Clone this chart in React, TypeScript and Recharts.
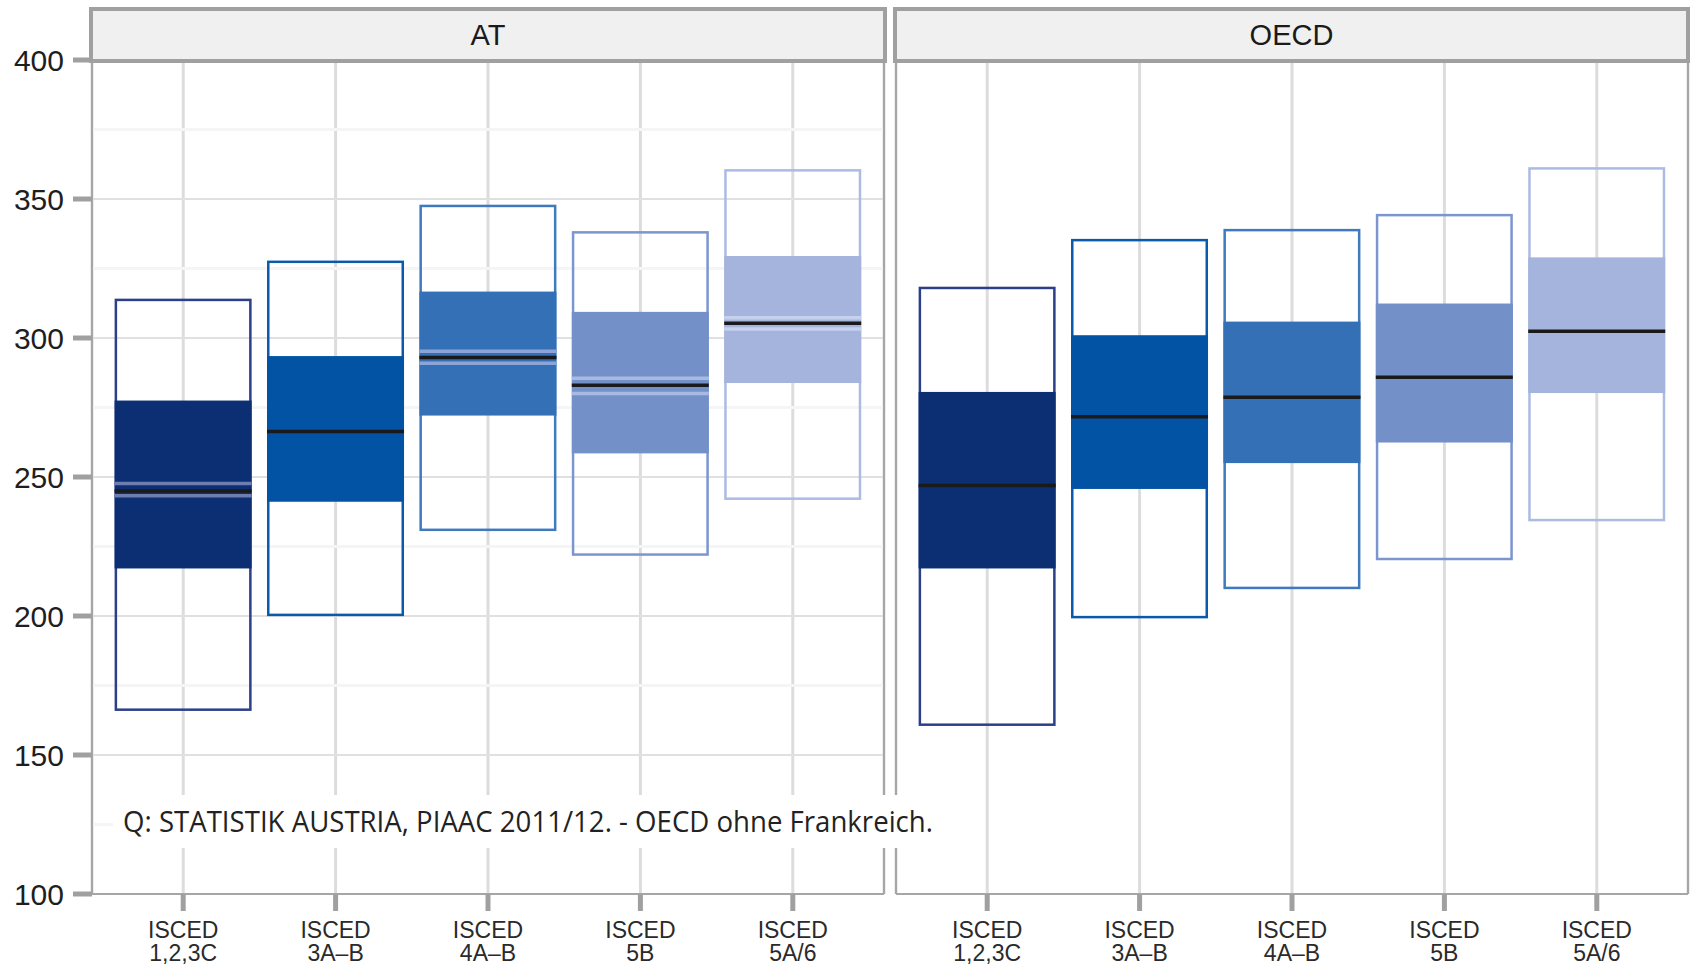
import { ComposedChart, Bar, XAxis, YAxis, CartesianGrid } from "recharts";

// categories + tick breaks
const categories = ["ISCED 1,2,3C", "ISCED 3A–B", "ISCED 4A–B", "ISCED 5B", "ISCED 5A/6"];
const yTicks = [100, 150, 200, 250, 300, 350, 400];
const minorBreaks = [125, 175, 225, 275, 325, 375];

// AT: percentiles, mean and confidence band of the mean
const atP5 = [166.3, 200.4, 231.0, 222.1, 242.2];
const atP25 = [217.1, 241.1, 272.1, 258.5, 283.8];
const atMean = [245.0, 266.4, 293.0, 283.0, 305.3];
const atP75 = [277.5, 293.5, 316.7, 309.4, 329.5];
const atP95 = [313.7, 327.4, 347.5, 338.0, 360.3];
const atCiLo = [243.3, null, 290.9, 280.0, 303.2];
const atCiHi = [247.7, null, 295.2, 285.5, 307.3];

// OECD
const oecdP5 = [160.9, 199.6, 210.1, 220.5, 234.5];
const oecdP25 = [217.1, 245.7, 255.0, 262.4, 280.2];
const oecdMean = [246.9, 271.7, 278.7, 285.9, 302.4];
const oecdP75 = [280.6, 301.0, 305.9, 312.4, 329.0];
const oecdP95 = [318.0, 335.2, 338.8, 344.2, 361.0];

const FILLS = ["#0c2f73", "#0353a4", "#3470b5", "#7490c9", "#a5b4dc"];
const STROKES = ["#2b4088", "#0b59ab", "#3f79be", "#7b96cf", "#abbbe3"];
const CI_COLORS = ["#6d7db2", "#4a7fc0", "#8ca5d6", "#a9b9e2", "#c6d1ee"];

const BORDER = "#a6a6a6";
const TICK = "#a0a0a0";
const SANS = "'Liberation Sans', Arial, sans-serif";

function buildRows(p5: number[], p25: number[], mean: number[], p75: number[], p95: number[], ciLo?: (number | null)[], ciHi?: (number | null)[]) {
  return categories.map((cat, i) => ({
    cat,
    p5: p5[i],
    p25: p25[i],
    mean: mean[i],
    p75: p75[i],
    p95: p95[i],
    ciLo: ciLo ? ciLo[i] : null,
    ciHi: ciHi ? ciHi[i] : null,
  }));
}

const atRows = buildRows(atP5, atP25, atMean, atP75, atP95, atCiLo, atCiHi);
const oecdRows = buildRows(oecdP5, oecdP25, oecdMean, oecdP75, oecdP95);

// the bar is the 5-95 range; everything else is placed inside it on the same scale
const BoxShape = (props: any) => {
  const { x, y, width, height, payload, index } = props;
  const top = Math.min(y, y + height);
  const h = Math.abs(height);
  const py = (v: number) => top + ((payload.p95 - v) / (payload.p95 - payload.p5)) * h;
  const yq3 = py(payload.p75);
  const yq1 = py(payload.p25);
  return (
    <g>
      <rect x={x + 1.25} y={top} width={width - 2.5} height={h} fill="none" stroke={STROKES[index]} strokeWidth={2.5} />
      <rect x={x} y={yq3} width={width} height={yq1 - yq3} fill={FILLS[index]} />
      {payload.ciHi != null && (
        <line x1={x} x2={x + width} y1={py(payload.ciHi)} y2={py(payload.ciHi)} stroke={CI_COLORS[index]} strokeWidth={3.5} />
      )}
      {payload.ciLo != null && (
        <line x1={x} x2={x + width} y1={py(payload.ciLo)} y2={py(payload.ciLo)} stroke={CI_COLORS[index]} strokeWidth={3.5} />
      )}
      <line x1={x} x2={x + width} y1={py(payload.mean)} y2={py(payload.mean)} stroke="#1a1a1a" strokeWidth={3.5} />
    </g>
  );
};

const IscedTick = (props: any) => {
  const { x, y, payload } = props;
  const [first, ...rest] = String(payload.value).split(" ");
  return (
    <text x={x} y={y} textAnchor="middle" fontSize={23} fill="#2a2a2a" fontFamily={SANS}>
      <tspan x={x} dy={27}>{first}</tspan>
      <tspan x={x} dy={23}>{rest.join(" ")}</tspan>
    </text>
  );
};

function Panel({ rows, showY, width }: { rows: any[]; showY: boolean; width: number }) {
  return (
    <ComposedChart width={width} height={967} data={rows} margin={{ top: 60, right: 0, bottom: 0, left: 0 }} barCategoryGap="5%">
      <CartesianGrid horizontal={false} vertical stroke="#dcdcdc" strokeWidth={3} />
      <CartesianGrid vertical={false} horizontalValues={minorBreaks} stroke="#f5f5f5" strokeWidth={3} />
      <CartesianGrid vertical={false} stroke="#e0e0e0" strokeWidth={2} />
      <XAxis
        dataKey="cat"
        height={73}
        padding={{ left: 15, right: 15 }}
        interval={0}
        tickSize={17}
        tickMargin={0}
        axisLine={{ stroke: BORDER, strokeWidth: 2 }}
        tickLine={{ stroke: TICK, strokeWidth: 5 }}
        tick={<IscedTick />}
      />
      <YAxis
        type="number"
        domain={[100, 400]}
        ticks={yTicks}
        allowDataOverflow
        width={showY ? 92 : 10}
        tickSize={showY ? 19 : 0}
        tickMargin={9}
        tick={showY ? { fontSize: 30, fill: "#1e1e1e", fontFamily: SANS } : false}
        tickLine={showY ? { stroke: TICK, strokeWidth: 5 } : false}
        axisLine={{ stroke: BORDER, strokeWidth: 2 }}
      />
      <YAxis
        yAxisId="border"
        orientation="right"
        type="number"
        domain={[100, 400]}
        width={2}
        tick={false}
        tickLine={false}
        axisLine={{ stroke: BORDER, strokeWidth: 2 }}
      />
      <Bar dataKey={(d: any) => [d.p5, d.p95]} shape={<BoxShape />} isAnimationActive={false} />
    </ComposedChart>
  );
}

const stripStyle: React.CSSProperties = {
  position: "absolute",
  top: 7,
  height: 56,
  boxSizing: "border-box",
  border: "4px solid #a0a0a0",
  background: "#f0f0f0",
  display: "flex",
  alignItems: "center",
  justifyContent: "center",
  fontFamily: SANS,
  fontSize: 29,
  color: "#1a1a1a",
};

export default function App() {
  return (
    <div style={{ position: "absolute", left: 0, top: 0, width: 1691, height: 967, background: "#fff", overflow: "hidden" }}>
      <div style={{ position: "absolute", left: 0, top: 0 }}>
        <Panel rows={atRows} showY width={886} />
      </div>
      <div style={{ position: "absolute", left: 886, top: 0 }}>
        <Panel rows={oecdRows} showY={false} width={804} />
      </div>
      <div style={{ ...stripStyle, left: 89, width: 798 }}>AT</div>
      <div style={{ ...stripStyle, left: 893, width: 797 }}>OECD</div>
      <svg width={1691} height={967} style={{ position: "absolute", left: 0, top: 0, pointerEvents: "none" }}>
        <rect x={113} y={795} width={832} height={53} fill="#fff" />
        <text
          x={123}
          y={832}
          fontSize={29}
          fill="#222"
          fontFamily="'Open Sans', 'Noto Sans', sans-serif"
          textLength={810}
          lengthAdjust="spacingAndGlyphs"
        >
          Q: STATISTIK AUSTRIA, PIAAC 2011/12. - OECD ohne Frankreich.
        </text>
      </svg>
    </div>
  );
}
